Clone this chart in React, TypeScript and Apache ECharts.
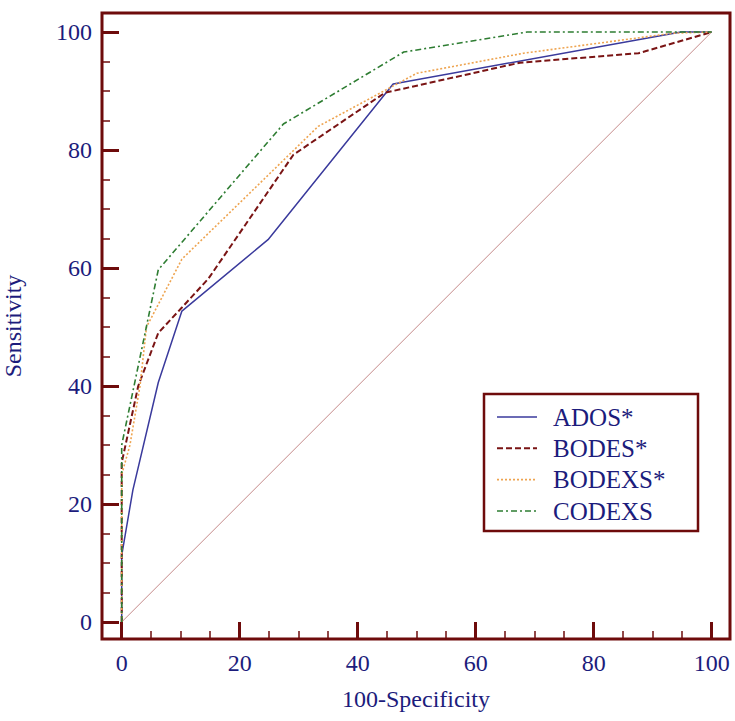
import React, { useEffect, useRef } from "react";
import * as echarts from "echarts";

// ---- data ----
const seriesNames = ["ADOS*", "BODES*", "BODEXS*", "CODEXS"];

const adosPoints: [number, number][] = [
  [0, 0], [0, 11.3], [1.9, 22.4], [6.2, 40.6], [10.2, 52.7], [24.8, 64.8], [46, 91.2], [94.8, 100], [100, 100],
];
const bodesPoints: [number, number][] = [
  [0, 0], [0, 27], [2.8, 40], [6.2, 49], [10.2, 53.3], [14.7, 58.2], [29.1, 79.2], [44.6, 89.7], [67.5, 94.8], [87.6, 96.4], [100, 100],
];
const bodexsPoints: [number, number][] = [
  [0, 0], [0, 25], [1.4, 30], [3.1, 40], [4.2, 50], [10.2, 61.5], [33.3, 84], [50, 93], [68.1, 96.4], [93.5, 99.8], [100, 100],
];
const codexsPoints: [number, number][] = [
  [0, 0], [0, 30], [6.2, 59.7], [27.4, 84.4], [47.8, 96.6], [68.7, 100], [100, 100],
];
const diagonalPoints: [number, number][] = [
  [0, 0], [100, 100],
];

const majorTicks = [0, 20, 40, 60, 80, 100];
const minorTicks = [5, 10, 15, 25, 30, 35, 45, 50, 55, 65, 70, 75, 85, 90, 95];

// ---- styling ----
const FRAME = "#6e0b0b";
const TEXT = "#1c1c7c";
const FONT = "Liberation Serif";

const colors = ["#3a3a9c", "#7a1414", "#eea450", "#2e7d32"];
const dashes: (number[] | "solid")[] = ["solid", [6, 3], [2, 2], [6, 3, 2, 3]];
const widths = [1.5, 2, 1.6, 1.6];

const X_MIN = -3.34;
const X_MAX = 103.1;
const Y_MIN = -2.88;
const Y_MAX = 103.22;

function makeAxis(dim: "x" | "y", primary: boolean) {
  const isX = dim === "x";
  const base: any = {
    type: "value",
    min: isX ? X_MIN : Y_MIN,
    max: isX ? X_MAX : Y_MAX,
    position: isX ? "bottom" : "left",
    axisLine: { show: false, onZero: false },
    splitLine: { show: false },
    axisTick: primary
      ? { show: true, inside: true, length: 17, lineStyle: { color: FRAME, width: 3 }, customValues: majorTicks }
      : { show: true, inside: true, length: 8, lineStyle: { color: FRAME, width: 1.5 }, customValues: minorTicks },
    axisLabel: primary
      ? { show: true, customValues: majorTicks, margin: isX ? 12 : 10, fontSize: 24, fontFamily: FONT, color: TEXT }
      : { show: false },
  };
  if (primary) {
    base.name = isX ? "100-Specificity" : "Sensitivity";
    base.nameLocation = "middle";
    base.nameGap = isX ? 48 : 77;
    base.nameTextStyle = { fontSize: 24, fontFamily: FONT, color: TEXT };
  }
  return base;
}

export default function App() {
  const ref = useRef<HTMLDivElement>(null);

  useEffect(() => {
    if (!ref.current) return;
    const chart = echarts.init(ref.current, undefined, { renderer: "svg" });

    const allPoints = [adosPoints, bodesPoints, bodexsPoints, codexsPoints];
    const series: any[] = [
      {
        name: "diagonal",
        type: "line",
        data: diagonalPoints,
        symbol: "none",
        silent: true,
        lineStyle: { color: "#c48a8a", width: 1 },
        z: 1,
      },
      ...allPoints.map((pts, i) => ({
        name: seriesNames[i],
        type: "line",
        data: pts,
        symbol: "none",
        showSymbol: false,
        lineStyle: { color: colors[i], width: widths[i], type: dashes[i] },
        z: 2 + i,
      })),
    ];

    // legend drawn as graphic
    const legendLeft = 484;
    const legendTop = 394;
    const rowYs = [417, 448.3, 479.6, 511];
    const legendChildren: any[] = [
      {
        type: "rect",
        shape: { x: legendLeft, y: legendTop, width: 214, height: 137 },
        style: { fill: "#ffffff", stroke: FRAME, lineWidth: 2.5 },
      },
    ];
    seriesNames.forEach((name, i) => {
      legendChildren.push({
        type: "line",
        shape: { x1: 497, y1: rowYs[i], x2: 537, y2: rowYs[i] },
        style: {
          stroke: colors[i],
          lineWidth: widths[i],
          lineDash: dashes[i] === "solid" ? null : dashes[i],
        },
      });
      legendChildren.push({
        type: "text",
        x: 553,
        y: rowYs[i],
        style: {
          text: name,
          fill: TEXT,
          fontSize: 25,
          fontFamily: FONT,
          verticalAlign: "middle",
          align: "left",
        },
      });
    });

    chart.setOption({
      animation: false,
      grid: {
        left: 102,
        top: 13,
        width: 628,
        height: 626,
        show: true,
        borderColor: FRAME,
        borderWidth: 3,
        backgroundColor: "transparent",
        containLabel: false,
        outerBoundsMode: "none",
      },
      xAxis: [makeAxis("x", true), makeAxis("x", false)],
      yAxis: [makeAxis("y", true), makeAxis("y", false)],
      series: series.map((s) => ({ ...s, xAxisIndex: 0, yAxisIndex: 0 })),
      graphic: [{ type: "group", z: 100, children: legendChildren }],
    });

    return () => chart.dispose();
  }, []);

  return (
    <div
      ref={ref}
      style={{ position: "fixed", left: 0, top: 0, width: 735, height: 721, background: "#ffffff" }}
    />
  );
}
